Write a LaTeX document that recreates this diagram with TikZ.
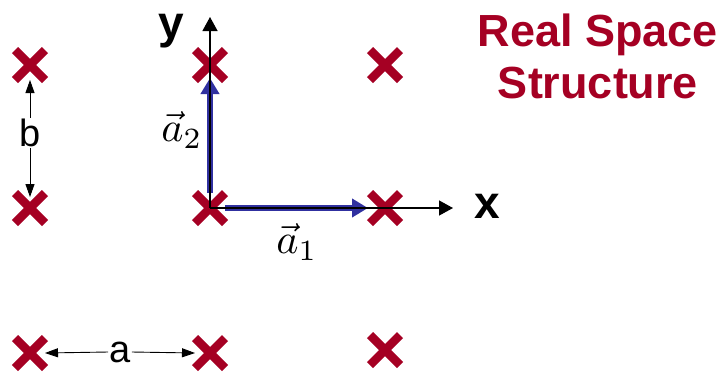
\documentclass[tikz,border=0pt]{standalone}
\usepackage{fontspec}
\setmainfont{Liberation Sans}
\usetikzlibrary{shapes.misc,arrows.meta}
\definecolor{crossred}{RGB}{165,0,35}
\definecolor{vecblue}{RGB}{48,48,160}
\tikzset{
  xmark/.style={draw=crossred, cross out, line width=8.5pt, minimum size=30pt, inner sep=0pt, outer sep=0pt},
  axis/.style={line width=1.3pt, -{Triangle[length=14pt,width=15pt]}},
  latvec/.style={draw=vecblue, line width=6pt, -{Triangle[length=16pt 0,width=18pt 0]}},
  dim/.style={line width=0.9pt, -{Triangle[length=13pt,width=9pt]}},
  axlabel/.style={font=\fontsize{46}{50}\selectfont\bfseries, inner sep=0pt, anchor=base},
  dimlabel/.style={font=\fontsize{38}{42}\selectfont, inner sep=1pt, fill=white},
  veclabel/.style={inner sep=0pt},
  title/.style={font=\fontsize{45}{52}\selectfont\bfseries, text=crossred, align=center, inner sep=0pt}
}
\begin{document}
\begin{tikzpicture}[x=1pt,y=-1pt]
\useasboundingbox (0,0) rectangle (728,376);
% lattice points
\node[xmark] (tl) at (30,65) {};
\node[xmark] (tm) at (210,65) {};
\node[xmark] (tr) at (385,65) {};
\node[xmark] (ml) at (30,208) {};
\node[xmark] (o)  at (210,208) {};
\node[xmark] (mr) at (385,208) {};
\node[xmark] (bl) at (30,353) {};
\node[xmark] (bm) at (210,353) {};
\node[xmark] (br) at (385,350) {};
% lattice vectors
\draw[latvec] (o.north) -- ([yshift=2pt]tm.south);
\draw[latvec] (o.east) -- ([xshift=-2pt]mr.west);
% axes
\coordinate (ytip) at (210,17);
\coordinate (xtip) at (453,208);
\draw[axis] (o.center) -- (ytip);
\draw[axis] (o.center) -- (xtip);
\node[axlabel] (ylab) at (171,38) {y};
\node[axlabel] (xlab) at (487,218) {x};
% vector labels
\node[veclabel] (a2lab) at (182,130) {\scalebox{4.2}{$\vec{a}_2$}};
\node[veclabel] (a1lab) at (297,242) {\scalebox{4.2}{$\vec{a}_1$}};
% dimensions
\node[dimlabel] (blab) at (30,133) {b};
\draw[dim] (blab.north) -- (tl.south);
\draw[dim] (blab.south) -- ([yshift=-4pt]ml.north);
\node[dimlabel] (alab) at (120,352) {a};
\draw[dim] (alab.west) -- (bl.east);
\draw[dim] (alab.east) -- (bm.west);
% title
\node[title] (title) at (598,56) {Real Space\\Structure};
\end{tikzpicture}
\end{document}
